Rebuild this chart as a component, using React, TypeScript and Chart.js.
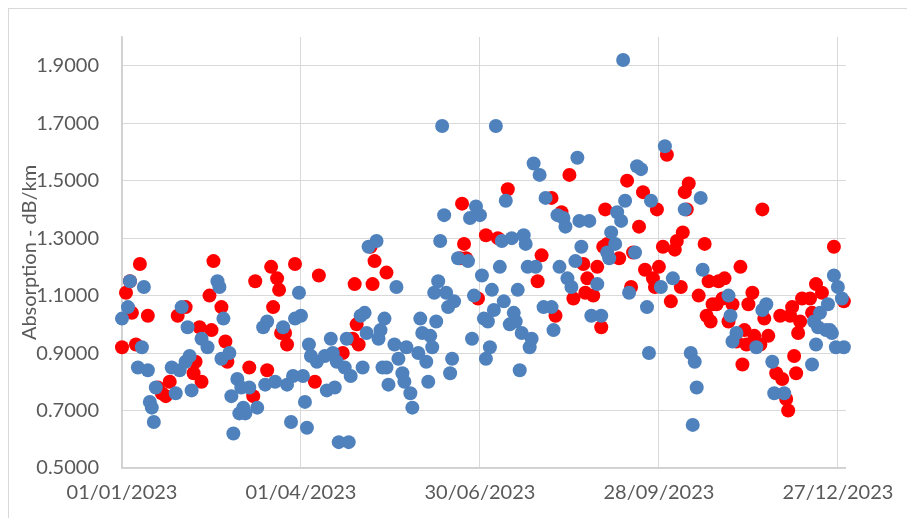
import React, { useEffect, useRef } from "react";
import { Chart, registerables } from "chart.js";

Chart.register(...registerables);

const startDate = Date.UTC(2023, 0, 1);
const xTicks = [0, 90, 180, 270, 360];
const yTicks = [0.5, 0.7, 0.9, 1.1, 1.3, 1.5, 1.7, 1.9];
const yTitle = "Absorption - dB/km";

const blueDays = [0,3,4,8,10,11,13,14,15,16,17,25,27,29,30,32,33,34,35,40,43,48,49,50,51,54,55,56,58,59,60,61,62,64,68,71,72,73,77,81,83,85,86,87,89,90,91,92,93,94,95,98,102,103,105,106,107,108,109,112,113,114,115,120,121,122,123,124,128,129,130,131,132,133,134,137,138,139,141,142,143,145,146,149,150,151,153,154,155,156,157,158,159,160,161,162,163,164,165,166,167,169,174,175,176,177,178,180,181,182,183,184,185,186,187,188,190,191,192,193,195,196,197,198,199,200,201,202,203,204,205,206,207,208,210,212,213,216,217,219,220,222,223,224,226,228,229,230,231,235,236,239,241,244,245,246,248,249,251,252,253,255,258,259,261,264,265,266,271,273,277,283,286,287,288,289,291,292,305,306,307,309,319,322,324,327,328,333,347,348,349,350,351,354,355,356,357,358,359,360,362,363];
const blueValues = [1.02,1.06,1.15,0.85,0.92,1.13,0.84,0.73,0.71,0.66,0.78,0.85,0.76,0.84,1.06,0.87,0.99,0.89,0.77,0.95,0.92,1.15,1.13,0.88,1.02,0.90,0.75,0.62,0.81,0.69,0.78,0.71,0.69,0.78,0.71,0.99,0.79,1.01,0.80,0.99,0.79,0.66,0.82,1.02,1.11,1.03,0.82,0.73,0.64,0.93,0.89,0.87,0.89,0.77,0.95,0.90,0.78,0.87,0.59,0.85,0.95,0.59,0.82,1.03,0.85,1.04,0.97,1.27,1.29,0.95,0.98,0.85,1.02,0.85,0.79,0.93,1.13,0.88,0.83,0.80,0.92,0.76,0.71,0.90,1.02,0.97,0.87,0.80,0.96,0.92,1.11,1.01,1.15,1.29,1.69,1.38,1.11,1.06,0.83,0.88,1.08,1.23,1.22,1.37,0.95,1.10,1.41,1.38,1.17,1.02,0.88,1.01,0.92,1.12,1.05,1.69,1.20,1.29,1.08,1.43,1.00,1.30,1.04,1.01,1.12,0.84,0.97,1.31,1.28,1.20,0.92,0.95,1.56,1.20,1.52,1.06,1.44,1.06,0.98,1.38,1.20,1.37,1.34,1.16,1.13,1.22,1.58,1.36,1.27,1.36,1.03,1.14,1.03,1.25,1.23,1.32,1.28,1.39,1.36,1.92,1.43,1.11,1.25,1.55,1.54,1.06,0.90,1.43,1.13,1.62,1.16,1.40,0.90,0.65,0.87,0.78,1.44,1.19,1.10,1.03,0.94,0.97,0.92,1.05,1.07,0.87,0.76,0.76,0.86,1.01,0.93,0.99,1.04,0.98,1.07,0.98,0.97,1.17,0.92,1.13,1.09,0.92];

const redDays = [0,2,4,5,7,9,13,18,20,22,24,28,32,36,37,39,40,44,45,46,50,52,53,64,66,67,73,75,76,78,79,80,82,83,87,97,99,111,116,117,118,119,125,126,127,133,170,171,172,173,179,183,189,194,209,211,216,218,221,225,227,232,233,234,237,239,241,242,243,244,250,254,256,257,260,262,263,267,268,269,270,272,274,276,278,279,281,282,283,284,285,290,293,294,295,296,297,299,300,302,303,305,307,309,311,312,313,314,315,317,318,321,322,323,325,329,331,332,334,335,336,337,338,339,340,341,342,346,347,349,352,358,363];
const redValues = [0.92,1.11,1.15,1.04,0.93,1.21,1.03,0.78,0.76,0.75,0.80,1.03,1.06,0.83,0.87,0.99,0.80,1.10,0.98,1.22,1.06,0.94,0.87,0.85,0.75,1.15,0.84,1.20,1.06,1.16,1.12,0.97,0.97,0.93,1.21,0.80,1.17,0.90,0.95,1.14,1.00,0.93,1.27,1.14,1.22,1.18,1.23,1.42,1.28,1.23,1.09,1.31,1.30,1.47,1.15,1.24,1.44,1.03,1.39,1.52,1.09,1.21,1.11,1.16,1.10,1.20,0.99,1.27,1.40,1.28,1.23,1.50,1.13,1.25,1.34,1.46,1.19,1.16,1.13,1.40,1.20,1.27,1.59,1.08,1.26,1.29,1.13,1.32,1.46,1.40,1.49,1.10,1.28,1.03,1.15,1.01,1.07,1.07,1.15,1.09,1.16,1.01,1.07,0.94,1.20,0.86,0.98,0.93,1.07,1.11,0.96,0.93,1.40,1.02,0.96,0.83,1.03,0.81,0.74,0.70,1.03,1.06,0.89,0.83,0.97,1.01,1.09,1.09,1.04,1.14,1.11,1.27,1.08];

function fmtDate(day: number): string {
  const d = new Date(startDate + day * 86400000);
  const dd = String(d.getUTCDate()).padStart(2, "0");
  const mm = String(d.getUTCMonth() + 1).padStart(2, "0");
  return `${dd}/${mm}/${d.getUTCFullYear()}`;
}

export default function App() {
  const ref = useRef<HTMLCanvasElement | null>(null);
  useEffect(() => {
    if (!ref.current) return;
    const font = { family: "Lato", size: 20 };
    const chart = new Chart(ref.current, {
      type: "scatter",
      data: {
        datasets: [
          {
            label: "A",
            data: blueDays.map((d, i) => ({ x: d, y: blueValues[i] })),
            backgroundColor: "#4F81BD",
            borderColor: "#4F81BD",
            borderWidth: 0,
            pointRadius: 7,
            clip: false,
          },
          {
            label: "B",
            data: redDays.map((d, i) => ({ x: d, y: redValues[i] })),
            backgroundColor: "#FF0000",
            borderColor: "#FF0000",
            borderWidth: 0,
            pointRadius: 7,
            clip: false,
          },
        ],
      },
      options: {
        animation: false,
        responsive: false,
        devicePixelRatio: 1,
        layout: { padding: { left: 0, right: 61, top: 37, bottom: 0 } },
        plugins: { legend: { display: false }, tooltip: { enabled: false } },
        scales: {
          x: {
            type: "linear",
            min: 0,
            max: 364,
            afterBuildTicks: (s: any) => {
              s.ticks = xTicks.map((v) => ({ value: v }));
            },
            afterFit: (s: any) => {
              s.height = 50;
            },
            grid: { color: "#d9d9d9", lineWidth: 1, drawTicks: false },
            border: { display: true, color: "#d0d0d0", width: 1.5 },
            ticks: {
              font,
              color: "#595959",
              padding: 13,
              maxRotation: 0,
              autoSkip: false,
              callback: (v: any) => fmtDate(Number(v)),
            },
          },
          y: {
            type: "linear",
            min: 0.5,
            max: 2.0,
            afterBuildTicks: (s: any) => {
              s.ticks = yTicks.map((v) => ({ value: v }));
            },
            afterFit: (s: any) => {
              s.width = 122;
            },
            grid: { color: "#d9d9d9", lineWidth: 1, drawTicks: false },
            border: { display: true, color: "#d0d0d0", width: 1.5 },
            title: {
              display: true,
              text: yTitle,
              font,
              color: "#595959",
              padding: { top: 18, bottom: 0 },
            },
            ticks: {
              font,
              color: "#595959",
              padding: 23,
              autoSkip: false,
              callback: (v: any) => Number(v).toFixed(4),
            },
          },
        },
      },
    } as any);
    return () => chart.destroy();
  }, []);
  return (
    <div>
      <canvas
        ref={ref}
        width={907}
        height={518}
        style={{ position: "fixed", left: 0, top: 0, width: 907, height: 518 }}
      />
      <div
        style={{
          position: "fixed",
          left: 8,
          top: 8,
          width: 920,
          height: 540,
          border: "1px solid #d9d9d9",
          pointerEvents: "none",
        }}
      />
    </div>
  );
}
